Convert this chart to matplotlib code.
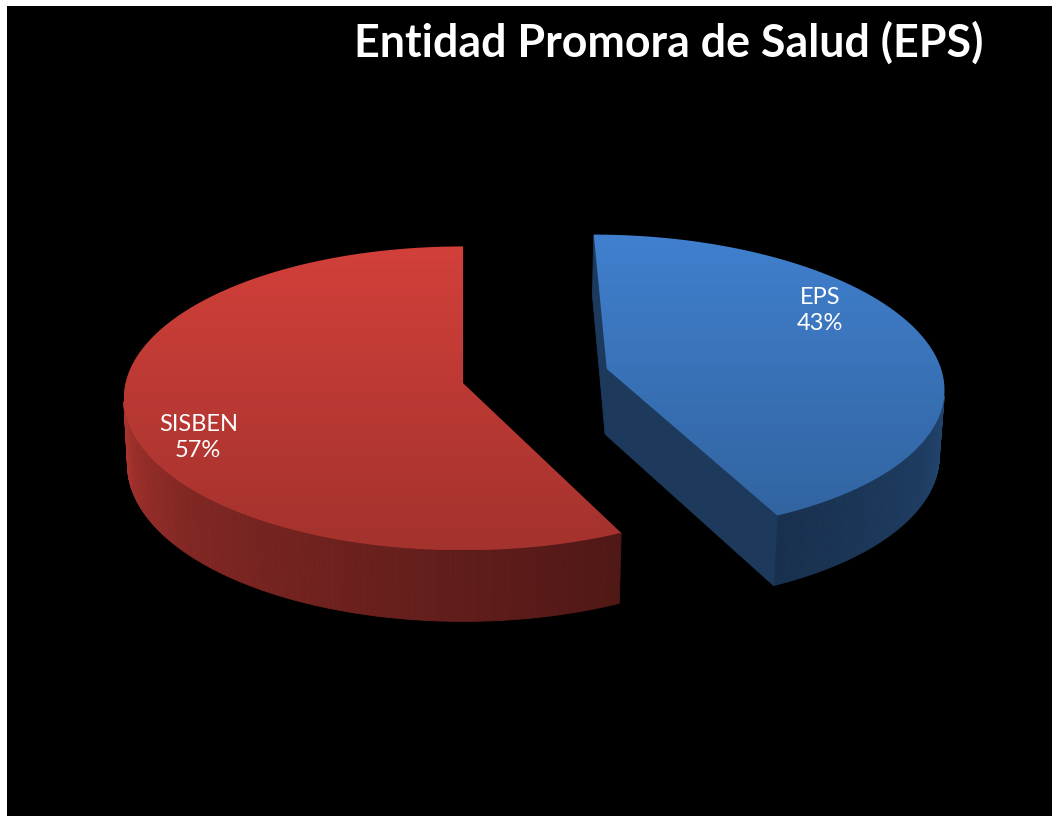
import numpy as np
import matplotlib.pyplot as plt
from matplotlib.patches import Polygon
from matplotlib.collections import PolyCollection
from matplotlib.colors import to_rgb

# data
categories = ["EPS", "SISBEN"]
values = [43, 57]
title = "Entidad Promora de Salud (EPS)"

# look
base_colors = ["#4080ce", "#d2403a"]
label_r = [0.67, 0.79]        # where the label sits along the mid angle
label_shift = [-37, 28]       # pixel nudge, like excel does

W, H = 1052, 816

# fake 3d camera (units: pie radius = 1)
phi = np.arcsin(0.4435)
L = 9.0
S = 336.0
cx0, cy0 = 463, 376
camx = -0.215
thick = 0.22
explode = 0.22


def proj(X, Y, Z):
    dx = X - camx
    dy = Y - L * np.sin(phi)
    dz = Z - L * np.cos(phi)
    depth = -(dy * np.sin(phi) + dz * np.cos(phi))
    up = dy * np.cos(phi) - dz * np.sin(phi)
    return np.column_stack([cx0 + S * L * dx / depth, cy0 - S * L * up / depth])


def gradient_fill(ax, xy, c0, c1, z):
    patch = Polygon(xy, closed=True, fc="none", ec="none")
    ax.add_patch(patch)
    x0, x1 = xy[:, 0].min(), xy[:, 0].max()
    y0, y1 = xy[:, 1].min(), xy[:, 1].max()
    g = np.linspace(0, 1, 256)[:, None, None]
    img = (1 - g) * np.array(c0) + g * np.array(c1)
    im = ax.imshow(img, extent=(x0, x1, y1, y0), aspect="auto",
                   interpolation="bilinear", zorder=z)
    im.set_clip_path(patch)


def wall_factor(t):
    return np.interp(t, [90, 155, 180, 230, 270], [0.56, 0.38, 0.46, 0.62, 0.86])


fig = plt.figure(figsize=(W / 100, H / 100), dpi=100, facecolor="white")
ax = fig.add_axes([7 / W, 0, 1 - 7 / W, 1 - 6 / H])
ax.set_facecolor("black")

total = sum(values)
cam_xz = np.array([camx, L * np.cos(phi)])
start = 0.0
slices = []
for i, v in enumerate(values):
    t1 = start
    t2 = start + 360.0 * v / total
    mid = np.radians((t1 + t2) / 2)
    ox, oz = explode * np.sin(mid), -explode * np.cos(mid)
    slices.append((i, t1, t2, ox, oz))
    start = t2

# far slice first
slices.sort(key=lambda s: s[4])

for k, (i, t1, t2, ox, oz) in enumerate(slices):
    base = np.array(to_rgb(base_colors[i]))
    zb = 2 + 3 * k
    th = np.radians(np.linspace(t1, t2, 240))
    rx, rz = ox + np.sin(th), oz - np.cos(th)

    # outer wall, only the segments facing the camera
    quads, cols = [], []
    for j in range(len(th) - 1):
        tm = (th[j] + th[j + 1]) / 2
        n = np.array([np.sin(tm), -np.cos(tm)])
        p = np.array([ox + np.sin(tm), oz - np.cos(tm)])
        if n @ (cam_xz - p) <= 0:
            continue
        xs = np.array([rx[j], rx[j + 1], rx[j + 1], rx[j]])
        zs = np.array([rz[j], rz[j + 1], rz[j + 1], rz[j]])
        ys = np.array([0, 0, -thick, -thick])
        quads.append(proj(xs, ys, zs))
        cols.append(base * wall_factor(np.degrees(tm)))
    if quads:
        ax.add_collection(PolyCollection(quads, facecolors=cols, edgecolors=cols,
                                         linewidths=0.6, zorder=zb))

    # the two flat cuts
    for tc, sgn in ((t1, -1), (t2, 1)):
        a = np.radians(tc)
        n = sgn * np.array([np.cos(a), np.sin(a)])
        if n @ (cam_xz - np.array([ox, oz])) <= 1e-6:
            continue
        ex, ez = ox + np.sin(a), oz - np.cos(a)
        face = proj(np.array([ox, ex, ex, ox]), np.array([0, 0, -thick, -thick]),
                    np.array([oz, ez, ez, oz]))
        ax.add_patch(Polygon(face, closed=True, fc=base * 0.45, ec=base * 0.45,
                             lw=0.6, zorder=zb + 1))

    # top face
    top = proj(np.r_[ox, rx], np.zeros(len(rx) + 1), np.r_[oz, rz])
    gradient_fill(ax, top, base, base * 0.78, zb + 2)

    # label
    mid = np.radians((t1 + t2) / 2)
    r = label_r[i]
    lp = proj(np.array([ox + r * np.sin(mid)]), np.array([0.0]),
              np.array([oz - r * np.cos(mid)]))[0]
    ax.text(lp[0], lp[1] + label_shift[i],
            f"{categories[i]}\n{values[i] / total:.0%}",
            ha="center", va="center", color="white", fontsize=17,
            family="Lato", linespacing=1.3, zorder=20)

ax.text(669, 57, title, ha="center", va="baseline", color="white",
        fontsize=32.2, fontweight="bold", family="Lato", zorder=20)

ax.set_xlim(7, W)
ax.set_ylim(H, 6)
ax.set_xticks([])
ax.set_yticks([])
for s in ax.spines.values():
    s.set_visible(False)

fig.savefig("out.png", dpi=100, facecolor="white")
